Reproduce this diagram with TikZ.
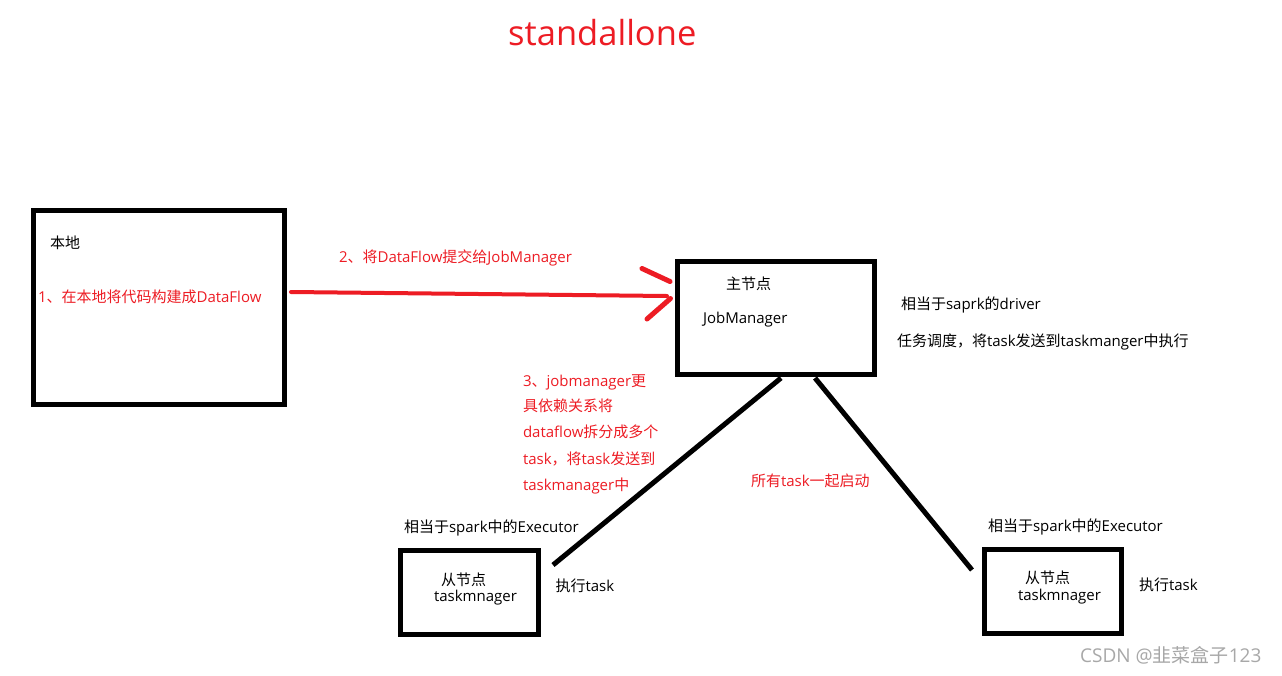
\documentclass[tikz,border=0pt]{standalone}
\usepackage{fontspec}
\setmainfont{Open Sans}
\newfontfamily\cjkfont{Noto Sans CJK SC}
\newcommand\cj[1]{{\cjkfont #1}}
\definecolor{pred}{HTML}{ED1C24}
\definecolor{wmgray}{HTML}{A8A8A8}
\begin{document}
\begin{tikzpicture}[x=1pt,y=-1pt,
  boxnode/.style={draw=black,line width=5pt,inner sep=0pt,outer sep=0pt},
  txt/.style={anchor=base west,inner sep=0pt,outer sep=0pt,font=\fontsize{15}{18}\selectfont},
  redtxt/.style={txt,text=pred},
  blackline/.style={draw=black,line width=5pt},
  redline/.style={draw=pred,line width=4pt,line cap=round},
  redhead/.style={draw=pred,line width=5pt,line cap=round}]
\useasboundingbox (0,0) rectangle (1282,675);
\fill[white] (0,0) rectangle (1282,675);

% title
\node[anchor=base west,inner sep=0pt,text=pred,font=\fontsize{34.5}{40}\selectfont] (title) at (508,45) {standallone};

% boxes
\node[boxnode,minimum width=250.5pt,minimum height=194pt] (local) at (158.75,307.5) {};
\node[boxnode,minimum width=197pt,minimum height=113pt] (jm) at (776,318) {};
\node[boxnode,minimum width=137.5pt,minimum height=83.5pt] (tm1) at (469.25,592.25) {};
\node[boxnode,minimum width=137pt,minimum height=84.5pt] (tm2) at (1053,591.25) {};

% texts in / near left box
\node[txt] (locallbl) at (50,248.5) {\cj{本地}};
\node[redtxt] (step1) at (38,302) {1\cj{、在本地将代码构建成}DataFlow};
\node[redtxt] (step2) at (339,262.5) {2\cj{、将}DataFlow\cj{提交给}JobManager};

% job manager texts
\node[txt] (jmtitle) at (726,289) {\cj{主节点}};
\node[txt] (jmname) at (703,323.5) {JobManager};
\node[txt] (drv) at (901,309) {\cj{相当于}saprk\cj{的}driver};
\node[txt] (sched) at (897,346) {\cj{任务调度，将}task\cj{发送到}taskmanger\cj{中执行}};

% step 3
\node[redtxt] (s3a) at (523,386.5) {3\cj{、}jobmanager\cj{更}};
\node[redtxt] (s3b) at (523,411.5) {\cj{具依赖关系将}};
\node[redtxt] (s3c) at (523,437.5) {dataflow\cj{拆分成多个}};
\node[redtxt] (s3d) at (523,464) {task\cj{，将}task\cj{发送到}};
\node[redtxt] (s3e) at (523,490) {taskmanager\cj{中}};
\node[redtxt] (allstart) at (751,486) {\cj{所有}task\cj{一起启动}};

% task managers texts
\node[txt] (ex1) at (404,532) {\cj{相当于}spark\cj{中的}Executor};
\node[txt] (tm1a) at (441,585) {\cj{从节点}};
\node[txt] (tm1b) at (434,601) {taskmnager};
\node[txt] (run1) at (555.5,591.5) {\cj{执行}task};
\node[txt] (ex2) at (988,531) {\cj{相当于}spark\cj{中的}Executor};
\node[txt] (tm2a) at (1025,583) {\cj{从节点}};
\node[txt] (tm2b) at (1018,600) {taskmnager};
\node[txt] (run2) at (1139,590) {\cj{执行}task};

% watermark
\node[anchor=base west,inner sep=0pt,text=wmgray,font=\fontsize{19}{22}\selectfont] (wm) at (1080,662) {CSDN @\cj{韭菜盒子}123};

% red arrow
\coordinate (rs) at (291,292);
\coordinate (re) at (667,296);
\coordinate (hu1) at (642,268.5);
\coordinate (hu2) at (670,281.5);
\coordinate (hl1) at (670.5,298.5);
\coordinate (hl2) at (647,319);
\draw[redline] (rs) -- (re);
\draw[redhead] (hu1) -- (hu2);
\draw[redhead] (hl1) -- (hl2);

% black connectors
\coordinate (c1a) at (781,378);
\coordinate (c1b) at (553,565);
\coordinate (c2a) at (815,378);
\coordinate (c2b) at (972,570);
\draw[blackline] (c1a) -- (c1b);
\draw[blackline] (c2a) -- (c2b);
\end{tikzpicture}
\end{document}
